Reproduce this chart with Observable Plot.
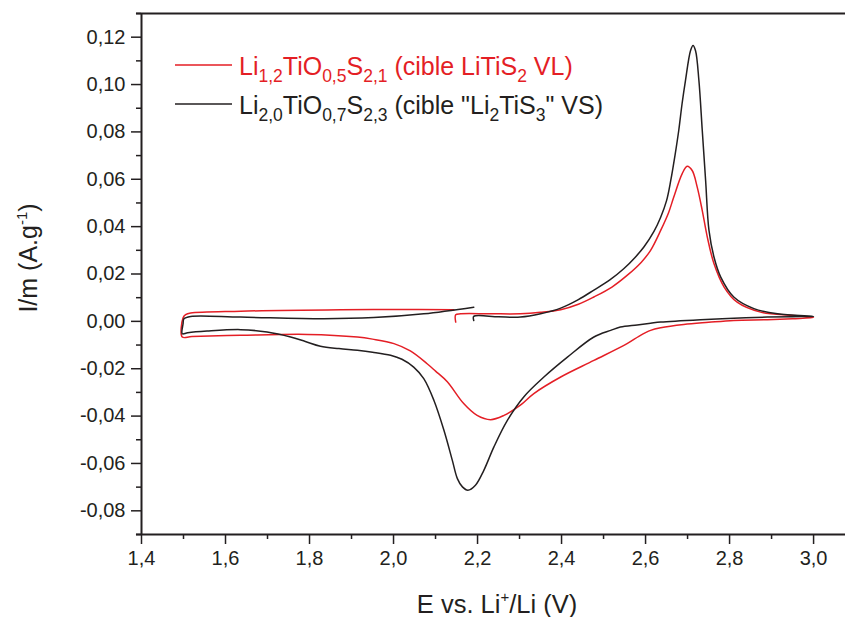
<!DOCTYPE html>
<html><head><meta charset="utf-8">
<script src="https://cdn.jsdelivr.net/npm/d3@7"></script>
<script src="https://cdn.jsdelivr.net/npm/@observablehq/plot@0.6"></script>
<style>
body{margin:0;background:#fff}
svg{font-family:"Liberation Sans",Arial,sans-serif}
</style>
</head><body><div id="chart"></div>
<script>
// Red series: Li1,2TiO0,5S2,1 — cyclic voltammogram, in sweep order
const redE = [2.148,2.148,2.16,2.23,2.302,2.35,2.398,2.44,2.477,2.52,2.556,2.59,2.612,2.636,2.655,2.667,2.687,2.699,2.711,2.723,2.735,2.747,2.763,2.787,2.818,2.874,2.953,3.0,
  2.95,2.89,2.81,2.75,2.691,2.636,2.612,2.585,2.556,2.477,2.398,2.334,2.302,2.263,2.231,2.199,2.167,2.128,2.10,2.08,2.04,2.001,1.95,1.914,1.795,1.636,1.52,1.497,
  1.499,1.505,1.517,1.636,1.874,2.0,2.144];
const redI = [-0.0003,0.0028,0.0032,0.0032,0.0032,0.0038,0.0049,0.0072,0.0103,0.0145,0.0194,0.025,0.030,0.0384,0.046,0.0524,0.0623,0.0655,0.0637,0.0567,0.0468,0.0356,0.0243,0.0145,0.0081,0.0039,0.0025,0.0016,
  0.0011,0.0007,0.0004,-0.0004,-0.0013,-0.0027,-0.0038,-0.0062,-0.0094,-0.0165,-0.0235,-0.0305,-0.0354,-0.0397,-0.0415,-0.0397,-0.0347,-0.0255,-0.021,-0.0179,-0.0125,-0.0094,-0.0075,-0.0066,-0.0055,-0.0059,-0.0064,-0.0066,
  0.0015,0.0028,0.0035,0.0043,0.0049,0.005,0.0049];
// Black series: Li2,0TiO0,7S2,3
const blackE = [2.191,2.191,2.25,2.302,2.35,2.398,2.44,2.477,2.515,2.548,2.575,2.596,2.62,2.636,2.65,2.66,2.67,2.679,2.687,2.695,2.707,2.713,2.719,2.727,2.735,2.743,2.751,2.763,2.779,2.81,2.858,2.914,3.0,
  2.95,2.89,2.81,2.731,2.636,2.612,2.58,2.54,2.517,2.477,2.414,2.358,2.31,2.271,2.239,2.215,2.195,2.177,2.164,2.152,2.14,2.12,2.096,2.072,2.048,2.02,1.993,1.95,1.914,1.87,1.826,1.79,1.755,1.699,1.636,1.556,1.51,1.497,
  1.499,1.501,1.517,1.636,1.834,1.953,2.072,2.191];
const blackI = [0.0004,0.0021,0.0019,0.0018,0.0032,0.0056,0.0092,0.0132,0.0175,0.0222,0.027,0.0314,0.038,0.044,0.051,0.0595,0.07,0.0806,0.092,0.1017,0.1143,0.1165,0.1143,0.1017,0.0806,0.0595,0.0384,0.0271,0.0187,0.0103,0.0054,0.0032,0.0021,
  0.002,0.0018,0.0013,0.0007,-0.0003,-0.0008,-0.0015,-0.0024,-0.0038,-0.0066,-0.0151,-0.0235,-0.0319,-0.0418,-0.053,-0.0629,-0.0692,-0.0713,-0.0699,-0.0664,-0.0587,-0.046,-0.0333,-0.0242,-0.0193,-0.016,-0.0143,-0.013,-0.0122,-0.0115,-0.0105,-0.0085,-0.0066,-0.0045,-0.0035,-0.0041,-0.0048,-0.0052,
  -0.001,0.0011,0.0021,0.0018,0.0011,0.0016,0.0032,0.006];

const xTicks = [1.4,1.6,1.8,2.0,2.2,2.4,2.6,2.8,3.0];
const xTickLabels = ["1,4","1,6","1,8","2,0","2,2","2,4","2,6","2,8","3,0"];
const xMinorTicks = [1.5,1.7,1.9,2.1,2.3,2.5,2.7,2.9];
const yTicks = [-0.08,-0.06,-0.04,-0.02,0,0.02,0.04,0.06,0.08,0.10,0.12];
const yTickLabels = ["-0,08","-0,06","-0,04","-0,02","0,00","0,02","0,04","0,06","0,08","0,10","0,12"];
const yMinorTicks = [-0.09,-0.07,-0.05,-0.03,-0.01,0.01,0.03,0.05,0.07,0.09,0.11,0.13];

const redLabel = [["Li",0],["1,2",1],["TiO",0],["0,5",1],["S",0],["2,1",1],[" (cible LiTiS",0],["2",1],[" VL)",0]];
const blackLabel = [["Li",0],["2,0",1],["TiO",0],["0,7",1],["S",0],["2,3",1],[" (cible \"Li",0],["2",1],["TiS",0],["3",1],["\" VS)",0]];
const xTitle = [["E vs. Li",0],["+",-1],["/Li (V)",0]];
const yTitle = [["I/m (A.g",0],["-1",-1],[")",0]];

const RED = "#e41e25", INK = "#231f20";
const redData = redE.map((e,i)=>({E:e, I:redI[i]}));
const blackData = blackE.map((e,i)=>({E:e, I:blackI[i]}));

const plot = Plot.plot({
  width: 845, height: 617,
  marginLeft: 141, marginRight: 0, marginTop: 13, marginBottom: 83,
  x: {domain: [1.4, 3.076], label: null},
  y: {domain: [-0.09, 0.13], label: null},
  style: {background: "#fff", color: INK},
  marks: [
    Plot.line(redData, {x: "E", y: "I", stroke: RED, strokeWidth: 1.5, curve: "catmull-rom"}),
    Plot.line(blackData, {x: "E", y: "I", stroke: INK, strokeWidth: 1.5, curve: "catmull-rom"}),
    Plot.axisX(xTicks, {tickSize: 10, tickPadding: 6, fontSize: 20, stroke: INK, strokeWidth: 1.5,
      tickFormat: d => xTickLabels[xTicks.findIndex(t => Math.abs(t - d) < 1e-9)]}),
    Plot.axisX(xMinorTicks, {tickSize: 5, text: null, stroke: INK, strokeWidth: 1.5}),
    Plot.axisY(yTicks, {tickSize: 10, tickPadding: 6, fontSize: 20, stroke: INK, strokeWidth: 1.5,
      tickFormat: d => yTickLabels[yTicks.findIndex(t => Math.abs(t - d) < 1e-9)]}),
    Plot.axisY(yMinorTicks, {tickSize: 5, text: null, stroke: INK, strokeWidth: 1.5}),
    Plot.ruleY([-0.09], {x1: 1.388, x2: 3.076, stroke: INK, strokeWidth: 2}),
    Plot.ruleY([0.13], {x1: 1.388, x2: 3.076, stroke: INK, strokeWidth: 2}),
    Plot.ruleX([1.4], {y1: -0.09, y2: 0.13, stroke: INK, strokeWidth: 2})
  ]
});
document.getElementById("chart").appendChild(plot);

const svg = d3.select(plot);
function richText(g, parts, size, subSize, fill, anchor) {
  const t = g.append("text").attr("fill", fill).attr("font-size", size).attr("text-anchor", anchor);
  let shift = 0;
  parts.forEach(([s, k]) => {
    const target = k === 1 ? 0.28 * size : k === -1 ? -0.42 * size : 0;
    t.append("tspan").attr("dy", target - shift).attr("font-size", k ? subSize : size).text(s);
    shift = target;
  });
  return t;
}
// legend
const leg = svg.append("g");
leg.append("line").attr("x1", 175).attr("x2", 232).attr("y1", 65).attr("y2", 65).attr("stroke", RED).attr("stroke-width", 1.5);
richText(leg.append("g").attr("transform", "translate(239,75)"), redLabel, 25, 17.5, RED, "start");
leg.append("line").attr("x1", 175).attr("x2", 232).attr("y1", 104).attr("y2", 104).attr("stroke", INK).attr("stroke-width", 1.5);
richText(leg.append("g").attr("transform", "translate(239,114)"), blackLabel, 25, 17.5, INK, "start");
// axis titles
richText(svg.append("g").attr("transform", "translate(497,613)"), xTitle, 25.5, 15, INK, "middle");
richText(svg.append("g").attr("transform", "translate(37,258) rotate(-90)"), yTitle, 25, 15, INK, "middle");
</script>
</body></html>
